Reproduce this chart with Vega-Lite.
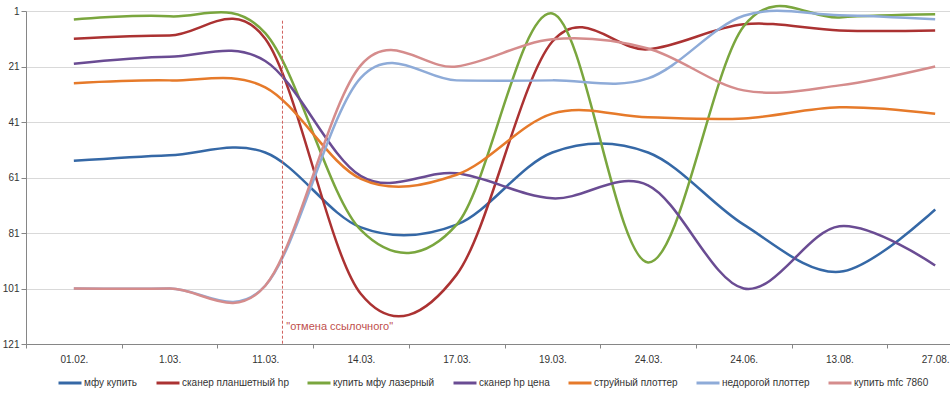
{
  "$schema": "https://vega.github.io/schema/vega-lite/v6.json",
  "width": 924,
  "height": 333,
  "autosize": {"type": "none"},
  "padding": {"left": 26, "top": 11, "right": 0, "bottom": 52},
  "background": "white",
  "config": {"view": {"stroke": null}, "font": "Liberation Sans"},
  "datasets": {
    "series": [
      {"series": "мфу купить", "date": "01.02.", "rank": 55},
      {"series": "мфу купить", "date": "1.03.", "rank": 53},
      {"series": "мфу купить", "date": "11.03.", "rank": 52},
      {"series": "мфу купить", "date": "14.03.", "rank": 79},
      {"series": "мфу купить", "date": "17.03.", "rank": 78},
      {"series": "мфу купить", "date": "19.03.", "rank": 52},
      {"series": "мфу купить", "date": "24.03.", "rank": 52},
      {"series": "мфу купить", "date": "24.06.", "rank": 78},
      {"series": "мфу купить", "date": "13.08.", "rank": 95},
      {"series": "мфу купить", "date": "27.08.", "rank": 72.5},
      {"series": "сканер планшетный hp", "date": "01.02.", "rank": 11},
      {"series": "сканер планшетный hp", "date": "1.03.", "rank": 9.8},
      {"series": "сканер планшетный hp", "date": "11.03.", "rank": 11},
      {"series": "сканер планшетный hp", "date": "14.03.", "rank": 103},
      {"series": "сканер планшетный hp", "date": "17.03.", "rank": 96},
      {"series": "сканер планшетный hp", "date": "19.03.", "rank": 12},
      {"series": "сканер планшетный hp", "date": "24.03.", "rank": 14.8},
      {"series": "сканер планшетный hp", "date": "24.06.", "rank": 5.8},
      {"series": "сканер планшетный hp", "date": "13.08.", "rank": 8},
      {"series": "сканер планшетный hp", "date": "27.08.", "rank": 8},
      {"series": "купить мфу лазерный", "date": "01.02.", "rank": 4.1},
      {"series": "купить мфу лазерный", "date": "1.03.", "rank": 2.9},
      {"series": "купить мфу лазерный", "date": "11.03.", "rank": 9},
      {"series": "купить мфу лазерный", "date": "14.03.", "rank": 80},
      {"series": "купить мфу лазерный", "date": "17.03.", "rank": 78},
      {"series": "купить мфу лазерный", "date": "19.03.", "rank": 1.9},
      {"series": "купить мфу лазерный", "date": "24.03.", "rank": 91.6},
      {"series": "купить мфу лазерный", "date": "24.06.", "rank": 6.5},
      {"series": "купить мфу лазерный", "date": "13.08.", "rank": 3.3},
      {"series": "купить мфу лазерный", "date": "27.08.", "rank": 2.2},
      {"series": "сканер hp цена", "date": "01.02.", "rank": 20},
      {"series": "сканер hp цена", "date": "1.03.", "rank": 17.5},
      {"series": "сканер hp цена", "date": "11.03.", "rank": 19},
      {"series": "сканер hp цена", "date": "14.03.", "rank": 60.5},
      {"series": "сканер hp цена", "date": "17.03.", "rank": 59.5},
      {"series": "сканер hp цена", "date": "19.03.", "rank": 68.5},
      {"series": "сканер hp цена", "date": "24.03.", "rank": 63.8},
      {"series": "сканер hp цена", "date": "24.06.", "rank": 101},
      {"series": "сканер hp цена", "date": "13.08.", "rank": 78.6},
      {"series": "сканер hp цена", "date": "27.08.", "rank": 92.7},
      {"series": "струйный плоттер", "date": "01.02.", "rank": 27},
      {"series": "струйный плоттер", "date": "1.03.", "rank": 26},
      {"series": "струйный плоттер", "date": "11.03.", "rank": 28.5},
      {"series": "струйный плоттер", "date": "14.03.", "rank": 61.5},
      {"series": "струйный плоттер", "date": "17.03.", "rank": 60},
      {"series": "струйный плоттер", "date": "19.03.", "rank": 38},
      {"series": "струйный плоттер", "date": "24.03.", "rank": 39.3},
      {"series": "струйный плоттер", "date": "24.06.", "rank": 39.7},
      {"series": "струйный плоттер", "date": "13.08.", "rank": 35.7},
      {"series": "струйный плоттер", "date": "27.08.", "rank": 38},
      {"series": "недорогой плоттер", "date": "01.02.", "rank": 101},
      {"series": "недорогой плоттер", "date": "1.03.", "rank": 101},
      {"series": "недорогой плоттер", "date": "11.03.", "rank": 100},
      {"series": "недорогой плоттер", "date": "14.03.", "rank": 25},
      {"series": "недорогой плоттер", "date": "17.03.", "rank": 26},
      {"series": "недорогой плоттер", "date": "19.03.", "rank": 26},
      {"series": "недорогой плоттер", "date": "24.03.", "rank": 25.3},
      {"series": "недорогой плоттер", "date": "24.06.", "rank": 2.7},
      {"series": "недорогой плоттер", "date": "13.08.", "rank": 2.5},
      {"series": "недорогой плоттер", "date": "27.08.", "rank": 4},
      {"series": "купить mfc 7860", "date": "01.02.", "rank": 101},
      {"series": "купить mfc 7860", "date": "1.03.", "rank": 101},
      {"series": "купить mfc 7860", "date": "11.03.", "rank": 100},
      {"series": "купить mfc 7860", "date": "14.03.", "rank": 20.5},
      {"series": "купить mfc 7860", "date": "17.03.", "rank": 21},
      {"series": "купить mfc 7860", "date": "19.03.", "rank": 11.2},
      {"series": "купить mfc 7860", "date": "24.03.", "rank": 14.5},
      {"series": "купить mfc 7860", "date": "24.06.", "rank": 29.6},
      {"series": "купить mfc 7860", "date": "13.08.", "rank": 27.8},
      {"series": "купить mfc 7860", "date": "27.08.", "rank": 21}
    ],
    "notes": [
      {"date": "11.03.", "top": 4.5, "bottom": 121, "labelY": 115, "label": "\"отмена ссылочного\""}
    ]
  },
  "layer": [
    {
      "data": {"name": "series"},
      "mark": {"type": "line", "interpolate": "cardinal", "strokeWidth": 2.5},
      "encoding": {
        "x": {
          "field": "date",
          "type": "ordinal",
          "scale": {
            "type": "band",
            "domain": ["01.02.", "1.03.", "11.03.", "14.03.", "17.03.", "19.03.", "24.03.", "24.06.", "13.08.", "27.08."],
            "paddingInner": 0,
            "paddingOuter": 0,
            "range": [0, 957]
          },
          "axis": {
            "title": null,
            "tickBand": "extent",
            "grid": false,
            "labelAngle": 0,
            "domainColor": "#868686",
            "tickColor": "#868686",
            "tickSize": 4,
            "labelPadding": 6,
            "labelFontSize": 10,
            "labelColor": "#333333"
          }
        },
        "y": {
          "field": "rank",
          "type": "quantitative",
          "scale": {"domain": [1, 121], "reverse": true, "nice": false, "zero": false},
          "axis": {
            "title": null,
            "values": [1, 21, 41, 61, 81, 101, 121],
            "grid": true,
            "gridColor": "#d9d9d9",
            "domainColor": "#868686",
            "tickColor": "#868686",
            "tickSize": 5,
            "labelPadding": 2,
            "labelFontSize": 10,
            "labelColor": "#333333"
          }
        },
        "color": {
          "field": "series",
          "type": "nominal",
          "scale": {
            "domain": ["мфу купить", "сканер планшетный hp", "купить мфу лазерный", "сканер hp цена", "струйный плоттер", "недорогой плоттер", "купить mfc 7860"],
            "range": ["#3568a6", "#ab3232", "#7aa63e", "#6a4c93", "#e67a2a", "#8eabd8", "#d58c8c"]
          },
          "legend": {
            "orient": "none",
            "legendX": 31,
            "legendY": 359,
            "direction": "horizontal",
            "title": null,
            "symbolType": "stroke",
            "symbolSize": 529,
            "symbolStrokeWidth": 3,
            "labelFontSize": 10,
            "labelColor": "#333333",
            "labelOffset": 1,
            "columnPadding": 12
          }
        }
      }
    },
    {
      "data": {"name": "notes"},
      "mark": {"type": "rule", "strokeDash": [3, 2], "color": "#d0605d", "strokeWidth": 1},
      "encoding": {
        "x": {"field": "date", "type": "ordinal", "bandPosition": 0.68},
        "y": {"field": "top", "type": "quantitative"},
        "y2": {"field": "bottom"}
      }
    },
    {
      "data": {"name": "notes"},
      "mark": {"type": "text", "align": "left", "baseline": "middle", "color": "#c0504d", "fontSize": 11},
      "encoding": {
        "x": {"field": "date", "type": "ordinal", "bandPosition": 0.72},
        "y": {"field": "labelY", "type": "quantitative"},
        "text": {"field": "label"}
      }
    }
  ]
}
